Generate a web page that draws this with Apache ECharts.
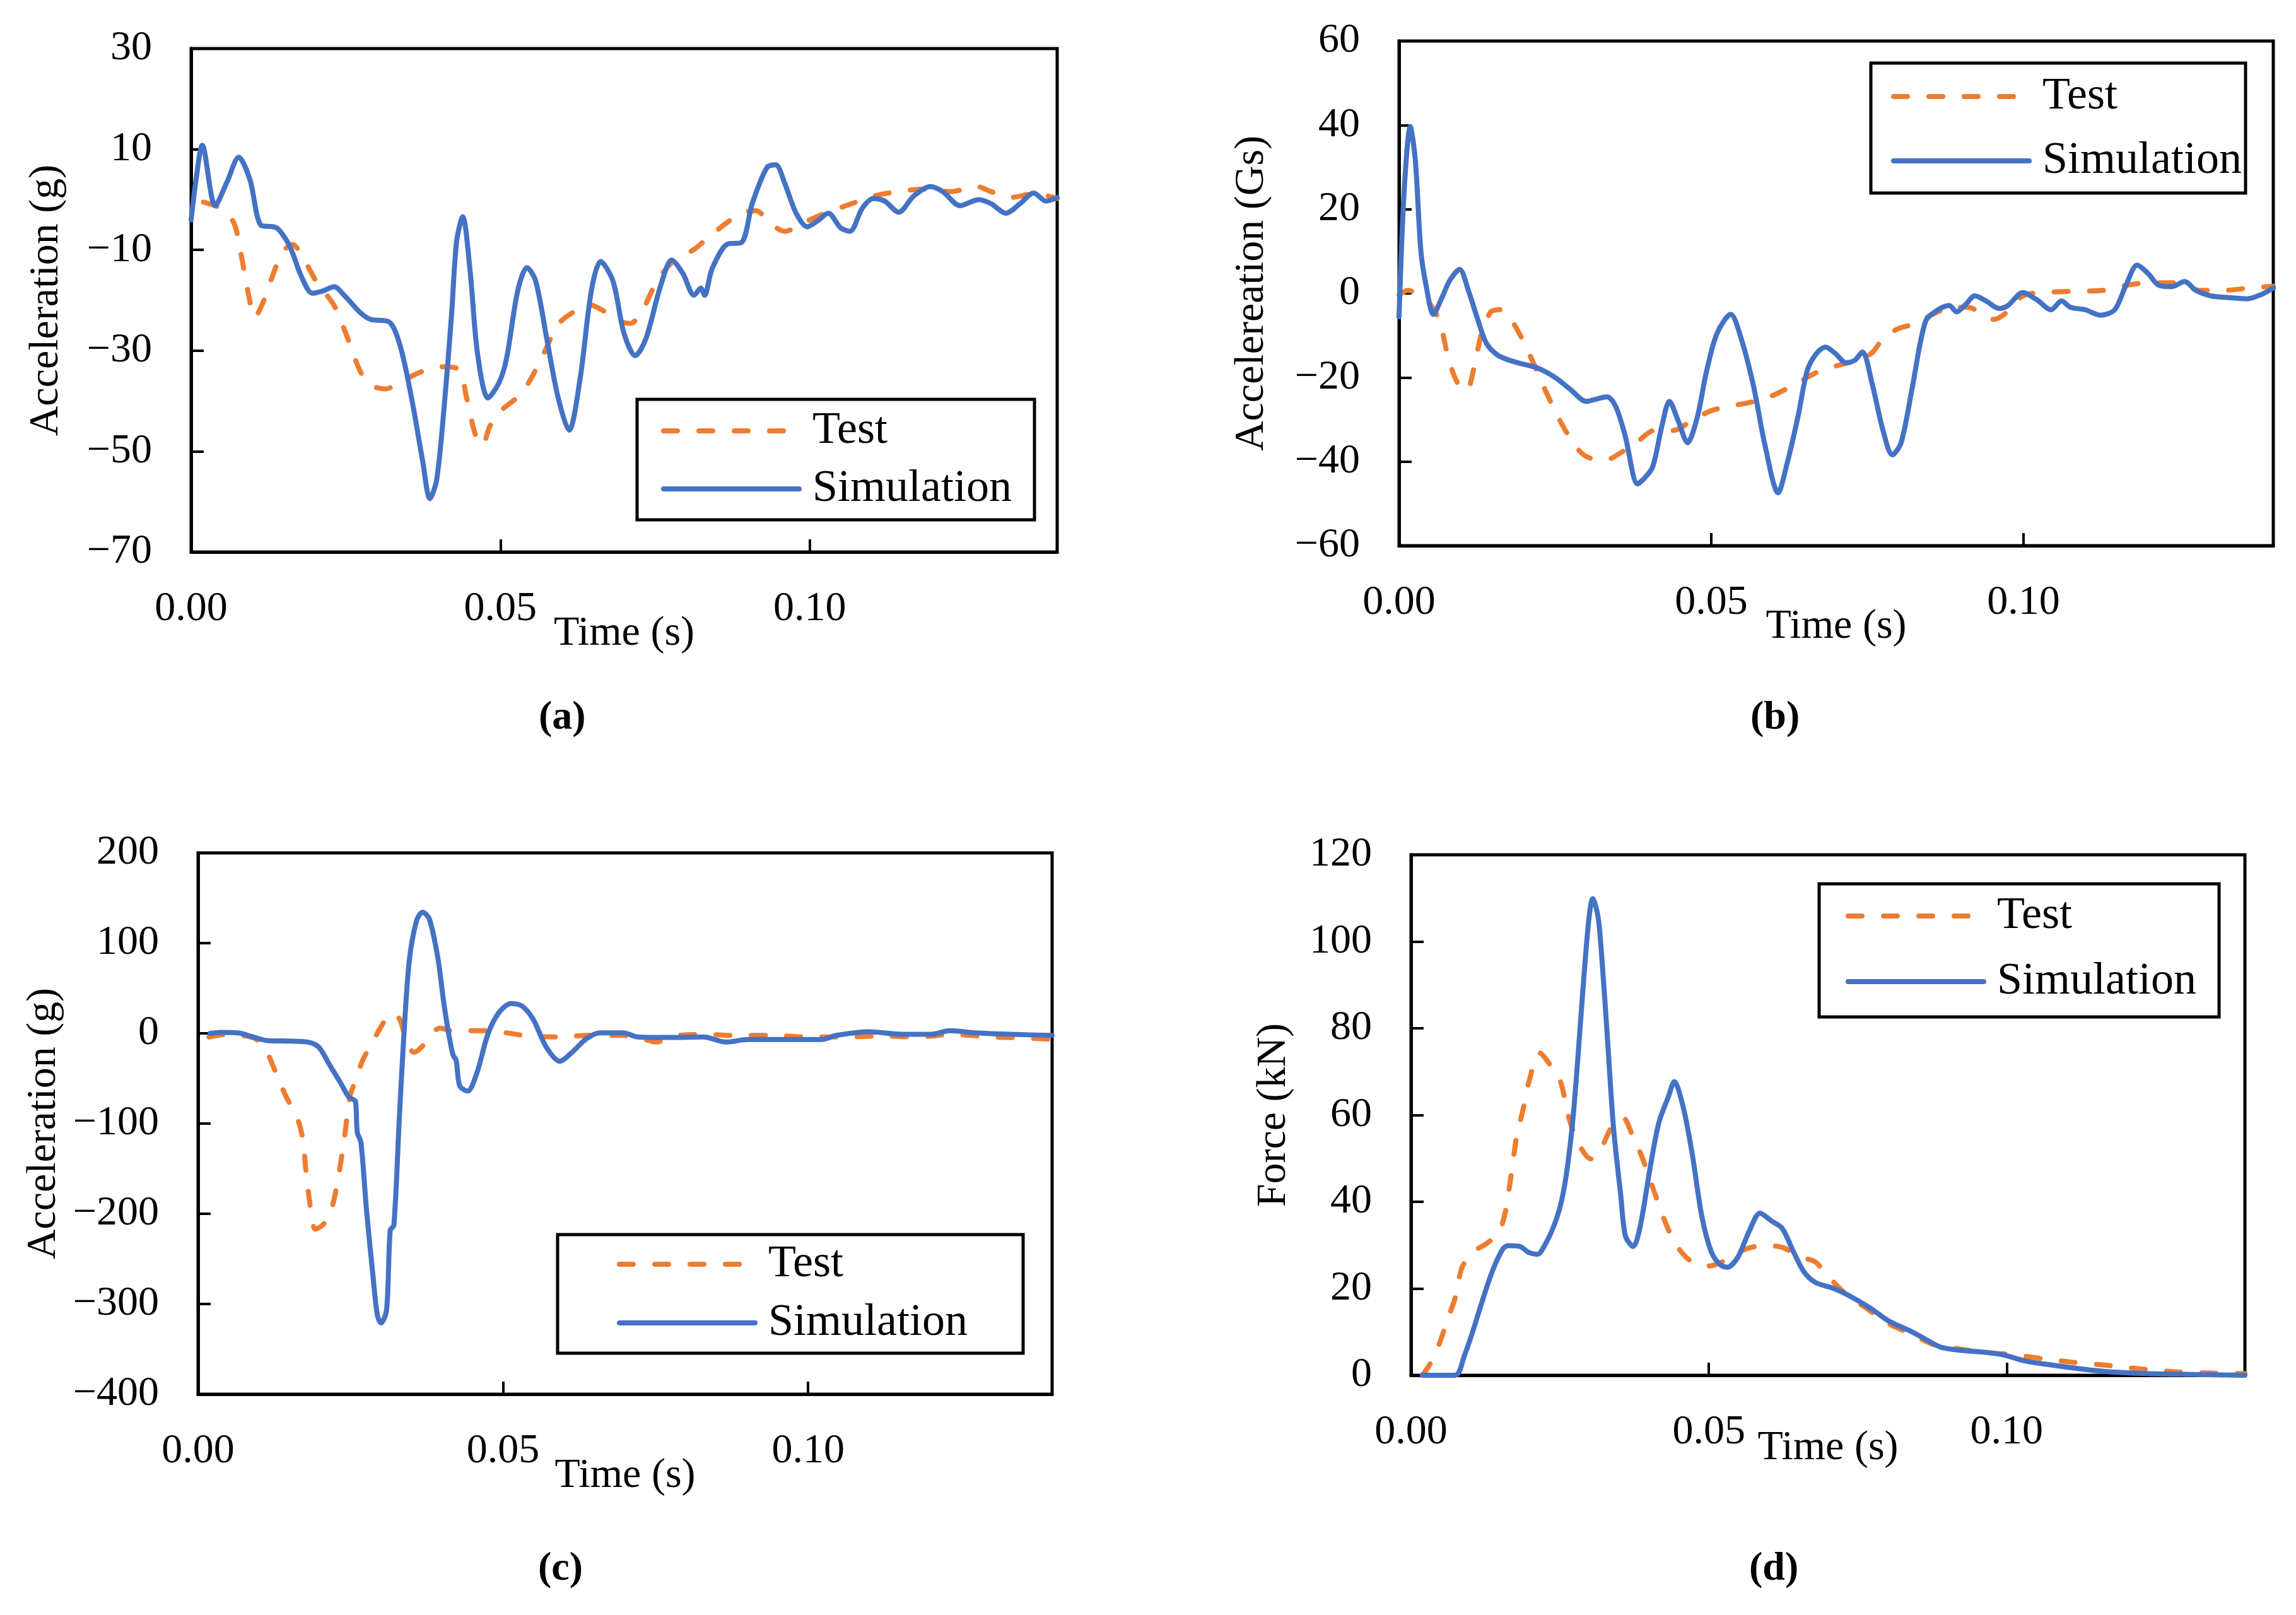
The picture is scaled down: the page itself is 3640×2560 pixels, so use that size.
<!DOCTYPE html>
<html>
<head>
<meta charset="utf-8">
<script src="https://cdn.jsdelivr.net/npm/echarts@6/dist/echarts.min.js"></script>
<style>
  html, body { margin: 0; padding: 0; background: #fff; }
  #main { width: 3640px; height: 2560px; }
</style>
</head>
<body>
<div id="main"></div>
<script>
// (a) head acceleration, [time s, value g]
var aTest = [[0.002, -0.5], [0.0047, -1.7], [0.0069, -4.6], [0.008, -10.4], [0.0093, -19], [0.0103, -23.4],
  [0.0116, -20.5], [0.0133, -14.7], [0.0148, -10.4], [0.0164, -8.9], [0.018, -11.3], [0.0202, -16.2],
  [0.0231, -21], [0.0249, -26.2], [0.0273, -34], [0.029, -36.8], [0.0314, -37.6], [0.0338, -36.3],
  [0.0368, -34.4], [0.0403, -33.2], [0.0433, -33.7], [0.0445, -39.2], [0.046, -46.9], [0.0471, -48.8],
  [0.0483, -45], [0.0504, -41.6], [0.0528, -39.2], [0.0546, -36.3], [0.057, -30.6], [0.0593, -24.8],
  [0.0617, -22.4], [0.0641, -20.8], [0.0664, -21.9], [0.0688, -24], [0.071, -24.6], [0.073, -21.9],
  [0.0753, -16.2], [0.0783, -11.8], [0.0813, -9.9], [0.0836, -7.5], [0.0866, -4.6], [0.089, -2.7],
  [0.0913, -2.2], [0.0937, -4.8], [0.096, -6.3], [0.099, -4.6], [0.1025, -2.7], [0.1068, -0.8],
  [0.1103, 0.7], [0.1144, 1.6], [0.1186, 2.1], [0.1228, 1.6], [0.127, 2.6], [0.1293, 1.6],
  [0.1323, 0.4], [0.1364, 1.2], [0.14, 0.2]];
var aSim = [[0, -4], [0.0008, 4], [0.0018, 10.8], [0.0039, -1.2], [0.0058, 3.5], [0.0077, 8.4], [0.0095, 4],
  [0.0113, -5.1], [0.0133, -5.4], [0.0142, -6], [0.016, -9.4], [0.0178, -15.2], [0.0196, -18.6],
  [0.0214, -18.1], [0.0231, -17.3], [0.0249, -19.2], [0.0273, -22.4], [0.029, -23.8], [0.032, -24.3],
  [0.0338, -29.1], [0.0356, -39.2], [0.0374, -51.7], [0.0386, -59.4], [0.0397, -55.6], [0.0409, -41.2],
  [0.0421, -22.9], [0.0429, -8.5], [0.0439, -3.4], [0.0451, -14.2], [0.0463, -30.6], [0.048, -39.4],
  [0.0498, -36.3], [0.051, -31.5], [0.0528, -18.1], [0.0543, -13.5], [0.0557, -16.2], [0.0575, -27.7],
  [0.0593, -39.2], [0.0611, -45.8], [0.0629, -35.4], [0.0647, -18.1], [0.0662, -12.3], [0.0682, -16.2],
  [0.07, -26.7], [0.0718, -31], [0.0735, -27.7], [0.0759, -17.1], [0.0777, -12], [0.0795, -14.7],
  [0.0813, -19], [0.0824, -17.6], [0.083, -19], [0.0842, -13.8], [0.0866, -8.9], [0.089, -8.5],
  [0.0907, -0.8], [0.0931, 6.4], [0.0945, 6.9], [0.096, 3.1], [0.0978, -2.7], [0.0996, -5.4],
  [0.1014, -4.1], [0.103, -2.7], [0.105, -5.6], [0.1065, -6.3], [0.1085, -1.7], [0.1103, 0.2],
  [0.1121, -0.3], [0.1144, -2.5], [0.1168, 0.7], [0.1195, 2.6], [0.1215, 1.6], [0.1243, -1.2],
  [0.1273, 0], [0.1293, -0.8], [0.1317, -2.7], [0.134, -0.8], [0.1362, 1.3], [0.1382, -0.3], [0.14, 0.4]];

// (b) acceleration, Gs
var bTest = [[0, -0.4], [0.0014, 0.7], [0.0032, -0.4], [0.005, -2.7], [0.0065, -6.7], [0.0079, -15.4],
  [0.0093, -21.1], [0.0108, -23.2], [0.012, -17.7], [0.0132, -9.6], [0.0147, -4.4], [0.0162, -3.9],
  [0.0179, -6.2], [0.0197, -10.8], [0.0215, -16.5], [0.0232, -22.3], [0.025, -28], [0.027, -33.5],
  [0.0291, -37.8], [0.0309, -39.3], [0.0333, -39.5], [0.0356, -37.8], [0.038, -35.5], [0.0409, -32.6],
  [0.0439, -32.6], [0.0468, -30.3], [0.0498, -28], [0.0527, -26.9], [0.0563, -25.9], [0.0598, -24.3],
  [0.0633, -21.7], [0.0669, -18.8], [0.0704, -17.1], [0.0733, -15.9], [0.0757, -14.2], [0.0775, -10.8],
  [0.0798, -8.5], [0.0828, -7.1], [0.0857, -4.8], [0.0887, -3.3], [0.091, -3.3], [0.0934, -4.8],
  [0.0952, -6.2], [0.0969, -5], [0.0999, -0.6], [0.1034, 0.2], [0.1081, 0.5], [0.1128, 0.7],
  [0.1164, 1.9], [0.1199, 2.5], [0.1246, 2.5], [0.1282, 0.7], [0.1317, 0.7], [0.1365, 1.3], [0.14, 1.7]];
var bSim = [[0, -5.6], [0.0008, 23.8], [0.0018, 39.6], [0.0026, 31.8], [0.0035, 10], [0.0044, 1.3],
  [0.0055, -5], [0.0067, -1.6], [0.0081, 3], [0.0097, 5.7], [0.0111, 0.7], [0.0126, -6.2],
  [0.014, -11.9], [0.0159, -14.8], [0.0185, -16.3], [0.0221, -17.7], [0.025, -20], [0.0274, -22.8],
  [0.03, -25.7], [0.0317, -25.1], [0.0333, -24.6], [0.0347, -26.9], [0.0362, -33.8], [0.0382, -45.3],
  [0.0392, -44.1], [0.0406, -41.3], [0.0421, -31.5], [0.0433, -25.7], [0.0447, -30.3], [0.0462, -35.5],
  [0.0478, -29.2], [0.0492, -18.8], [0.0509, -9.6], [0.0531, -5], [0.0548, -10.8], [0.0568, -22.3],
  [0.0586, -36.1], [0.0607, -47.4], [0.0621, -40.7], [0.0639, -29.2], [0.0654, -18.2], [0.0669, -14.2],
  [0.0683, -12.8], [0.0698, -14.2], [0.0716, -16.5], [0.073, -15.9], [0.0742, -13.9], [0.0757, -21.1],
  [0.0775, -32.6], [0.079, -38.4], [0.0804, -35.5], [0.0822, -22.3], [0.0843, -6.7], [0.0863, -3.9],
  [0.0881, -2.9], [0.0893, -4.4], [0.0907, -2.7], [0.0922, -0.6], [0.094, -1.8], [0.0961, -3.6],
  [0.0975, -2.9], [0.0999, 0.2], [0.1022, -1.6], [0.1044, -3.9], [0.1061, -1.8], [0.1075, -3.3],
  [0.1099, -3.9], [0.1123, -5.2], [0.1146, -3.9], [0.1164, 1.9], [0.1182, 6.7], [0.1199, 4.8],
  [0.1217, 1.9], [0.1237, 1.6], [0.1258, 2.8], [0.1276, 0.7], [0.13, -0.6], [0.1329, -1],
  [0.1358, -1.3], [0.1382, -0.2], [0.14, 1.3]];

// (c) acceleration, g
var cTest = [[0.0018, -4], [0.0048, -1.1], [0.0078, -2.9], [0.0096, -6.9], [0.0111, -18.3], [0.0126, -41.1],
  [0.0144, -69.7], [0.0162, -92.6], [0.0171, -115], [0.0178, -160], [0.0186, -201], [0.0192, -217],
  [0.0204, -212.6], [0.0216, -201], [0.0228, -166.9], [0.024, -115.4], [0.0249, -69.7], [0.0258, -52.6],
  [0.027, -29.7], [0.0286, -9.7], [0.03, 7.4], [0.0316, 21.7], [0.033, 16], [0.0342, -9.7],
  [0.0354, -21.1], [0.037, -12.6], [0.0385, 1.7], [0.0397, 5.7], [0.0415, 2.9], [0.0445, 2.9],
  [0.0475, 2.9], [0.0505, 0.6], [0.0541, -2.9], [0.0589, -4], [0.0637, -2.3], [0.0697, -2.3],
  [0.0733, -6.9], [0.0751, -9.7], [0.0781, -2.9], [0.0829, -1.1], [0.0877, -2.3], [0.0938, -2.3],
  [0.0998, -4], [0.1058, -4], [0.1118, -2.9], [0.1178, -4], [0.1238, -1.1], [0.1298, -4],
  [0.1358, -5.1], [0.14, -6.9]];
var cSim = [[0.002, 0], [0.0036, 1.1], [0.0066, 0.6], [0.009, -4], [0.0114, -8], [0.015, -8.6],
  [0.018, -9.7], [0.0198, -15.4], [0.0216, -35.4], [0.0234, -55.4], [0.0246, -69.7], [0.0252, -72.6],
  [0.0258, -75.4], [0.0261, -109.7], [0.0267, -121], [0.0276, -195], [0.0286, -264], [0.0294, -312.6],
  [0.03, -321], [0.0309, -306.9], [0.0315, -218.3], [0.0321, -212.6], [0.033, -92.6], [0.0337, -6.9],
  [0.0346, 78.9], [0.0358, 124.6], [0.0368, 134.3], [0.0379, 127], [0.0393, 84], [0.0403, 33],
  [0.0411, -1.1], [0.0418, -24], [0.0423, -29.7], [0.0429, -58.3], [0.0442, -64], [0.0457, -44],
  [0.0475, -1.1], [0.0493, 22.9], [0.0513, 33.1], [0.0531, 30.3], [0.0549, 16], [0.0571, -15.4],
  [0.0593, -30.9], [0.0613, -21.1], [0.0637, -5.7], [0.0659, 0.6], [0.0697, 0.6], [0.0721, -4],
  [0.0769, -4.6], [0.0829, -4], [0.0865, -9.7], [0.0901, -6.9], [0.0949, -6.9], [0.1022, -6.9],
  [0.1046, -2.3], [0.11, 1.7], [0.1154, -1.1], [0.1202, -1.1], [0.1232, 2.9], [0.1274, 0.6],
  [0.1334, -1.1], [0.14, -2.3]];

// (d) force, kN
var dTest = [[0.0019, 0], [0.0031, 2.4], [0.0047, 7.1], [0.0062, 13.1], [0.0074, 17.8], [0.0086, 25],
  [0.0105, 28.5], [0.0126, 30.3], [0.0146, 32.7], [0.0157, 36.8], [0.0167, 45.1], [0.0177, 54.7],
  [0.0188, 61.2], [0.0198, 67.7], [0.0216, 74.3], [0.0235, 71.3], [0.0251, 67.7], [0.0265, 59.4],
  [0.0281, 53.5], [0.0302, 49.9], [0.0319, 52.3], [0.0336, 57], [0.0356, 59.4], [0.037, 55.9],
  [0.0389, 49.9], [0.0407, 42.8], [0.0426, 35.6], [0.0444, 30.3], [0.0469, 26.4], [0.05, 25.2],
  [0.0531, 26.7], [0.0562, 29.1], [0.0593, 29.9], [0.0623, 29.5], [0.0654, 27.3], [0.0679, 26.1],
  [0.0698, 23.2], [0.0728, 19], [0.0765, 15.4], [0.0802, 11.9], [0.084, 9.5], [0.0877, 7.1],
  [0.0914, 6.2], [0.0963, 5.3], [0.1012, 4.7], [0.1062, 3.8], [0.1111, 3], [0.116, 2.4],
  [0.1222, 1.5], [0.1284, 0.8], [0.1346, 0.5], [0.14, 0.4]];
var dSim = [[0.0019, 0], [0.0074, 0], [0.009, 4.7], [0.0105, 10.7], [0.0117, 16], [0.0136, 23.8],
  [0.0154, 29.1], [0.0163, 29.9], [0.0183, 29.7], [0.0198, 28.3], [0.0212, 27.9], [0.0228, 30.9],
  [0.0243, 35.6], [0.0253, 40.4], [0.0262, 47.5], [0.0272, 59.4], [0.0281, 74.8], [0.029, 91.5],
  [0.0299, 105.7], [0.0305, 109.9], [0.0314, 105.7], [0.0321, 95], [0.033, 77.2], [0.034, 57],
  [0.0352, 41.6], [0.036, 32.1], [0.0373, 29.7], [0.0385, 34.5], [0.0401, 47.5], [0.0416, 58.2],
  [0.0432, 64.2], [0.0442, 67.7], [0.0457, 61.8], [0.0472, 51.1], [0.0488, 36.8], [0.0504, 28.5],
  [0.0519, 25.5], [0.0531, 24.9], [0.0549, 27.3], [0.0568, 33.3], [0.0586, 37.4], [0.0605, 35.6],
  [0.0623, 33.9], [0.0642, 28.5], [0.066, 23.8], [0.0679, 21.4], [0.071, 20], [0.0735, 18.4],
  [0.0772, 15.4], [0.0802, 12.5], [0.084, 10.1], [0.0864, 8.3], [0.0889, 6.5], [0.0926, 5.7],
  [0.0963, 5.3], [0.0994, 4.7], [0.1031, 3.3], [0.1074, 2.4], [0.1123, 1.5], [0.1173, 0.8],
  [0.1235, 0.4], [0.1309, 0.2], [0.14, 0]];

var yNames = ['Acceleration (g)', 'Accelereation (Gs)', 'Acceleration (g)', 'Force (kN)'];
var yMin = [-70, -60, -400, 0];
var yMax = [30, 60, 200, 120];
var yStep = [20, 20, 100, 20];
var tags = ['(a)', '(b)', '(c)', '(d)'];
var seriesNames = ['Test', 'Simulation'];

var FONT = 'Liberation Serif';
var BLUE = '#4472C4';
var ORANGE = '#ED7D31';

// plot boxes and legend placement per panel
var boxes = [
    { left: 303, top: 77, width: 1373, height: 798, yGap: 196, xGap: 97,
      lg: { left: 1010, top: 633, pad: [14, 36, 13, 38], gap: 20 }, tag: [886, 1142] },
    { left: 2218, top: 65, width: 1386, height: 800, yGap: 200, xGap: 96,
      lg: { left: 2966, top: 100, pad: [17, 6, 15, 32], gap: 30 }, tag: [2807, 1142] },
    { left: 314, top: 1352, width: 1354, height: 858, yGap: 211, xGap: 97,
      lg: { left: 884, top: 1957, pad: [11, 88, 12, 94], gap: 21 }, tag: [885, 2491] },
    { left: 2237, top: 1355, width: 1322, height: 825, yGap: 184, xGap: 83,
      lg: { left: 2884, top: 1401, pad: [15, 36, 20, 42], gap: 32 }, tag: [2805, 2491] }
];
var testData = [aTest, bTest, cTest, dTest];
var simData = [aSim, bSim, cSim, dSim];

var grids = [], xAxes = [], yAxes = [], series = [], legends = [], graphics = [];

for (var i = 0; i < 4; i++) {
    var b = boxes[i];
    grids.push({
        left: b.left, top: b.top, width: b.width, height: b.height,
        show: true, borderColor: '#000', borderWidth: 5, backgroundColor: 'transparent'
    });
    xAxes.push({
        type: 'value', gridIndex: i, min: 0, max: 0.14, interval: 0.05,
        name: 'Time (s)', nameLocation: 'middle', nameGap: b.xGap, nameMoveOverlap: false,
        nameTextStyle: { fontFamily: FONT, fontSize: 66, color: '#000' },
        axisLine: { show: true, onZero: false, lineStyle: { color: '#000', width: 5 } },
        axisTick: { show: true, inside: true, length: 20, lineStyle: { color: '#000', width: 4 } },
        axisLabel: {
            showMaxLabel: false, margin: 58, fontFamily: FONT, fontSize: 66, color: '#000',
            formatter: function (v) { return v.toFixed(2); }
        },
        splitLine: { show: false }
    });
    yAxes.push({
        type: 'value', gridIndex: i, min: yMin[i], max: yMax[i], interval: yStep[i],
        name: yNames[i], nameLocation: 'middle', nameGap: b.yGap,
        nameTextStyle: { fontFamily: FONT, fontSize: 66, color: '#000' },
        axisLine: { show: true, onZero: false, lineStyle: { color: '#000', width: 5 } },
        axisTick: { show: true, inside: true, length: 20, lineStyle: { color: '#000', width: 4 } },
        axisLabel: {
            margin: 62, fontFamily: FONT, fontSize: 66, color: '#000',
            formatter: function (v) { return String(v).replace('-', '\u2212'); }
        },
        splitLine: { show: false }
    });
    series.push({
        name: seriesNames[0], type: 'line', xAxisIndex: i, yAxisIndex: i,
        data: testData[i], symbol: 'none', smooth: 0.3,
        lineStyle: { color: ORANGE, width: 8, type: [22, 34], cap: 'round' },
        itemStyle: { color: ORANGE }, z: 2
    });
    series.push({
        name: seriesNames[1], type: 'line', xAxisIndex: i, yAxisIndex: i,
        data: simData[i], symbol: 'none', smooth: 0.3,
        lineStyle: { color: BLUE, width: 8, cap: 'round', join: 'round' },
        itemStyle: { color: BLUE }, z: 3
    });
    legends.push({
        data: seriesNames, orient: 'vertical', left: b.lg.left, top: b.lg.top,
        padding: b.lg.pad, itemGap: b.lg.gap, itemWidth: 215, itemHeight: 20,
        borderColor: '#000', borderWidth: 5, backgroundColor: '#fff',
        selectedMode: false,
        itemStyle: { color: 'rgba(0,0,0,0)', borderWidth: 0, opacity: 0 },
        lineStyle: { width: 8, cap: 'round' },
        textStyle: { fontFamily: FONT, fontSize: 72, lineHeight: 70, color: '#000', padding: [0, 0, 0, 16] }
    });
    graphics.push({
        type: 'text', left: b.tag[0] - 32, top: b.tag[1] - 36,
        style: { text: tags[i], font: 'bold 64px "Liberation Serif"', fill: '#000' }
    });
}

var myChart = echarts.init(document.getElementById('main'));
var option = {
    backgroundColor: '#fff',
    animation: false,
    grid: grids,
    xAxis: xAxes,
    yAxis: yAxes,
    legend: legends,
    series: series,
    graphic: graphics
};
myChart.setOption(option);
</script>
</body>
</html>
